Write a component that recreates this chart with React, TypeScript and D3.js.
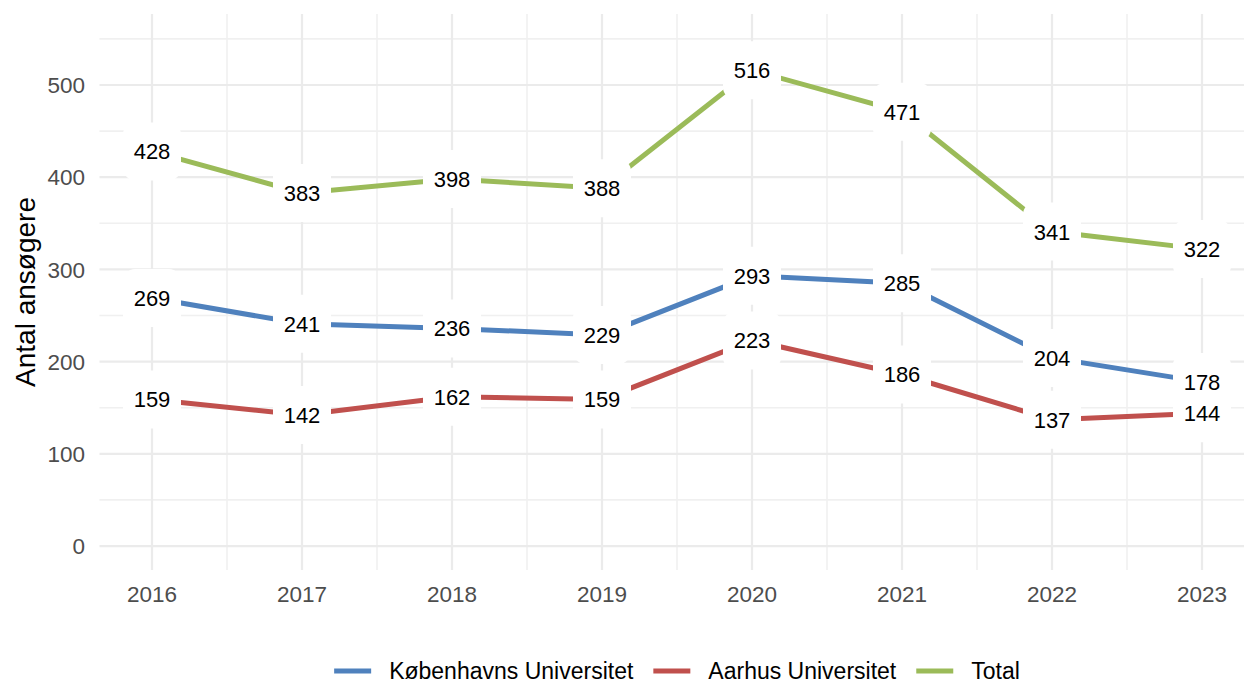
import React, { useEffect, useRef } from 'react';
import * as d3 from 'd3';

// data
const years = [2016, 2017, 2018, 2019, 2020, 2021, 2022, 2023];
const kuValues = [269, 241, 236, 229, 293, 285, 204, 178];
const auValues = [159, 142, 162, 159, 223, 186, 137, 144];
const totalValues = [428, 383, 398, 388, 516, 471, 341, 322];
const seriesNames = ['Københavns Universitet', 'Aarhus Universitet', 'Total'];
const seriesColors = ['#4f81bd', '#c0504d', '#9bbb59'];
const yTicks = [0, 100, 200, 300, 400, 500];
const yMinor = [50, 150, 250, 350, 450, 550];
const yTitle = 'Antal ansøgere';

const FONT = '"Liberation Sans", Arial, Helvetica, sans-serif';

export default function App() {
  const ref = useRef<SVGSVGElement>(null);

  useEffect(() => {
    const width = 1244;
    const height = 682;
    const panel = { left: 99.5, right: 1254.5, top: 14, bottom: 570 };

    const svg = d3.select(ref.current).attr('viewBox', [0, 0, width, height]);
    svg.selectAll('*').remove();

    const x = d3.scaleLinear([2015.65, 2023.35], [panel.left, panel.right]);
    const y = d3.scaleLinear([-26, 577], [panel.bottom, panel.top]);

    const series = [kuValues, auValues, totalValues].map((vals, i) => ({
      name: seriesNames[i],
      color: seriesColors[i],
      points: years.map((yr, j) => ({ year: yr, value: vals[j] })),
    }));

    // grid
    const grid = svg.append('g');
    const xMinor = years.slice(0, -1).map((d) => d + 0.5);
    grid
      .selectAll('.ymin')
      .data(yMinor)
      .join('line')
      .attr('x1', panel.left)
      .attr('x2', panel.right)
      .attr('y1', (d) => y(d))
      .attr('y2', (d) => y(d))
      .attr('stroke', '#f0f0f0')
      .attr('stroke-width', 1.6);
    grid
      .selectAll('.xmin')
      .data(xMinor)
      .join('line')
      .attr('x1', (d) => x(d))
      .attr('x2', (d) => x(d))
      .attr('y1', panel.top)
      .attr('y2', panel.bottom)
      .attr('stroke', '#f0f0f0')
      .attr('stroke-width', 1.6);
    grid
      .selectAll('.ymaj')
      .data(yTicks)
      .join('line')
      .attr('x1', panel.left)
      .attr('x2', panel.right)
      .attr('y1', (d) => y(d))
      .attr('y2', (d) => y(d))
      .attr('stroke', '#ebebeb')
      .attr('stroke-width', 2.2);
    grid
      .selectAll('.xmaj')
      .data(years)
      .join('line')
      .attr('x1', (d) => x(d))
      .attr('x2', (d) => x(d))
      .attr('y1', panel.top)
      .attr('y2', panel.bottom)
      .attr('stroke', '#ebebeb')
      .attr('stroke-width', 2.2);

    // axis labels
    svg
      .append('g')
      .selectAll('text')
      .data(yTicks)
      .join('text')
      .attr('x', 85)
      .attr('y', (d) => y(d))
      .attr('dy', '0.36em')
      .attr('text-anchor', 'end')
      .attr('font-family', FONT)
      .attr('font-size', 22.5)
      .attr('fill', '#4d4d4d')
      .text((d) => d);

    svg
      .append('g')
      .selectAll('text')
      .data(years)
      .join('text')
      .attr('x', (d) => x(d))
      .attr('y', 601.5)
      .attr('text-anchor', 'middle')
      .attr('font-family', FONT)
      .attr('font-size', 22.5)
      .attr('fill', '#4d4d4d')
      .text((d) => d);

    svg
      .append('text')
      .attr('transform', 'translate(25,292) rotate(-90)')
      .attr('dy', '0.36em')
      .attr('text-anchor', 'middle')
      .attr('font-family', FONT)
      .attr('font-size', 28)
      .attr('fill', '#000')
      .text(yTitle);

    // lines
    const line = d3
      .line<{ year: number; value: number }>()
      .x((d) => x(d.year))
      .y((d) => y(d.value));

    svg
      .append('g')
      .selectAll('path')
      .data(series)
      .join('path')
      .attr('d', (d) => line(d.points))
      .attr('fill', 'none')
      .attr('stroke', (d) => d.color)
      .attr('stroke-width', 5);

    // labels: all boxes first, then all texts
    const pts = series.flatMap((s) => s.points);
    svg
      .append('g')
      .selectAll('rect')
      .data(pts)
      .join('rect')
      .attr('x', (d) => x(d.year) - 29)
      .attr('y', (d) => y(d.value) - 29)
      .attr('width', 58)
      .attr('height', 58)
      .attr('rx', 12)
      .attr('fill', '#fff');
    svg
      .append('g')
      .selectAll('text')
      .data(pts)
      .join('text')
      .attr('x', (d) => x(d.year))
      .attr('y', (d) => y(d.value))
      .attr('dy', '0.36em')
      .attr('text-anchor', 'middle')
      .attr('font-family', FONT)
      .attr('font-size', 22)
      .attr('fill', '#000')
      .text((d) => d.value);

    // legend
    const legend = svg.append('g');
    const keyW = 37;
    const keyGap = 18;
    const itemGap = 20;
    const items = series.map((s) => {
      const g = legend.append('g');
      g.append('line')
        .attr('x1', 0)
        .attr('x2', keyW)
        .attr('y1', 0)
        .attr('y2', 0)
        .attr('stroke', s.color)
        .attr('stroke-width', 5);
      const t = g
        .append('text')
        .attr('x', keyW + keyGap)
        .attr('y', 7.5)
        .attr('font-family', FONT)
        .attr('font-size', 23)
        .attr('fill', '#000')
        .text(s.name);
      const w = (t.node() as SVGTextElement).getComputedTextLength();
      return { g, w: keyW + keyGap + w };
    });
    const total = d3.sum(items, (d) => d.w) + itemGap * (items.length - 1);
    let cx = (panel.left + panel.right) / 2 - total / 2;
    items.forEach((it) => {
      it.g.attr('transform', `translate(${cx},671)`);
      cx += it.w + itemGap;
    });
  }, []);

  return (
    <svg
      ref={ref}
      width={1244}
      height={682}
      style={{ position: 'absolute', left: 0, top: 0, background: '#fff' }}
    />
  );
}
